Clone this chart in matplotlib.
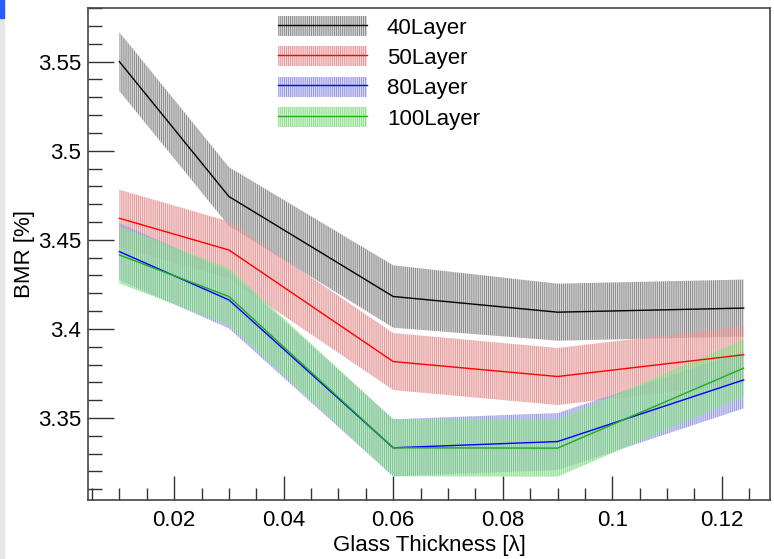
import matplotlib
matplotlib.use("Agg")
import matplotlib.pyplot as plt
from matplotlib.patches import Patch, Rectangle
from matplotlib.lines import Line2D
from matplotlib.ticker import MultipleLocator
import numpy as np

plt.rcParams['font.family'] = ['Liberation Sans', 'DejaVu Sans']
plt.rcParams['hatch.linewidth'] = 0.5

thickness = [0.01, 0.03, 0.06, 0.09, 0.124]
labels = ["40Layer", "50Layer", "80Layer", "100Layer"]
bmr_40 = [3.550, 3.4743, 3.4182, 3.4094, 3.4117]
bmr_50 = [3.4621, 3.4443, 3.3817, 3.3733, 3.3855]
bmr_80 = [3.4434, 3.4163, 3.3333, 3.3368, 3.3714]
bmr_100 = [3.4415, 3.4182, 3.3333, 3.3331, 3.3780]
err_40 = [0.0165, 0.0165, 0.0175, 0.016, 0.016]
err_50 = [0.016, 0.016, 0.016, 0.016, 0.016]
err_80 = [0.016, 0.016, 0.016, 0.016, 0.016]
err_100 = [0.016, 0.016, 0.016, 0.016, 0.016]

line_colors = ["#000000", "#ff0000", "#0000ff", "#22aa22"]
face_colors = ["#bcbcbc", "#f0c0c0", "#c0c0f0", "#b0eab0"]
hatch_colors = ["#303030", "#d04848", "#4848d0", "#48c448"]
HATCH = '||||||||'

fig = plt.figure(figsize=(7.74, 5.59), dpi=100)
fig.patches.append(Rectangle((0, 0), 4/774, 1, transform=fig.transFigure,
                             color="#e6e6e6", zorder=0))
fig.patches.append(Rectangle((0, 1-18/559), 4/774, 18/559, transform=fig.transFigure,
                             color="#2a5cff", zorder=1))
ax = fig.add_axes([88/774, 1-500/559, (770-88)/774, (500-8)/559])

series = [bmr_40, bmr_50, bmr_80, bmr_100]
errors = [err_40, err_50, err_80, err_100]
x = np.array(thickness)
handles = []
for i, (y, e) in enumerate(zip(series, errors)):
    y = np.array(y); e = np.array(e)
    ax.fill_between(x, y - e, y + e, facecolor=face_colors[i], edgecolor=hatch_colors[i],
                    hatch=HATCH, linewidth=0, alpha=0.6, zorder=2 + i)
    ax.plot(x, y, color=line_colors[i], lw=1.0, zorder=10 + i)
    h = (Patch(facecolor=face_colors[i], edgecolor=hatch_colors[i], hatch=HATCH,
               linewidth=0, alpha=0.6),
         Line2D([], [], color=line_colors[i], lw=1.0))
    handles.append(h)

ax.set_xlim(0.00427, 0.1288)
ax.set_ylim(3.304, 3.5801)

ax.xaxis.set_major_locator(MultipleLocator(0.02))
ax.xaxis.set_minor_locator(MultipleLocator(0.005))
ax.yaxis.set_major_locator(MultipleLocator(0.05))
ax.yaxis.set_minor_locator(MultipleLocator(0.01))

def fmt(v, pos):
    return ("%.3f" % v).rstrip('0').rstrip('.')
ax.xaxis.set_major_formatter(plt.FuncFormatter(fmt))
ax.yaxis.set_major_formatter(plt.FuncFormatter(fmt))

FS = 16
ax.tick_params(which='major', direction='in', length=19, width=1.0, color='#333333',
               labelsize=FS, top=False, right=False)
ax.tick_params(which='minor', direction='in', length=10, width=1.0, color='#333333',
               top=False, right=False)
ax.tick_params(axis='x', which='major', length=17, pad=7)
ax.tick_params(axis='x', which='minor', length=9)
ax.tick_params(axis='y', which='major', pad=5)
for s in ax.spines.values():
    s.set_color('#444444')
    s.set_linewidth(1.2)

ax.set_xlabel("Glass Thickness [λ]", fontsize=FS, labelpad=3)
ax.set_ylabel("BMR [%]", fontsize=FS, labelpad=2)

leg = fig.legend(handles, labels, loc='upper left', bbox_to_anchor=(278/774, 1-16/559),
                 frameon=False, fontsize=FS, handlelength=4.0, handleheight=1.0,
                 handletextpad=0.9, labelspacing=0.35, borderpad=0, borderaxespad=0)

fig.savefig("out.png", dpi=100)
